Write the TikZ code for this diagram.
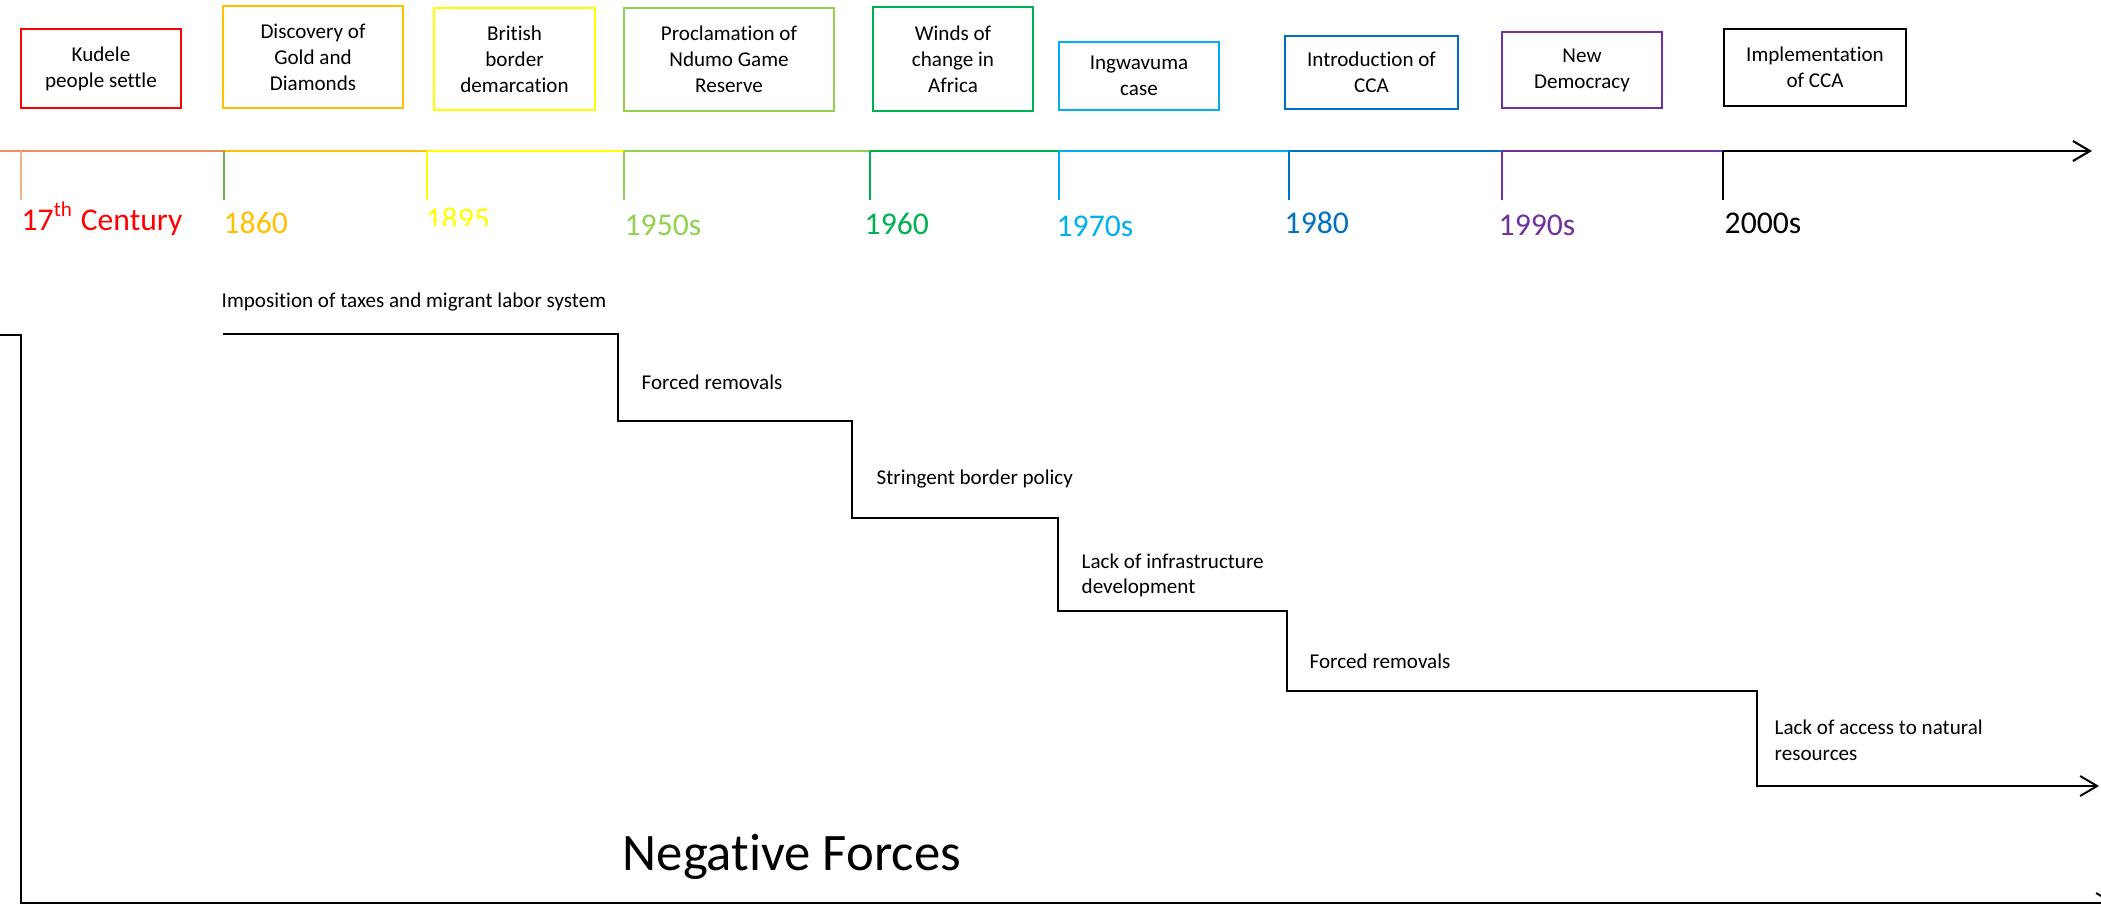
\documentclass[tikz,border=0pt]{standalone}
\usepackage{fontspec}
\setmainfont{Carlito}[Ligatures=NoCommon]
\usepackage{tikz}
\usetikzlibrary{arrows.meta}
\usetikzlibrary{positioning}

\definecolor{evred}{HTML}{FF0000}
\definecolor{evorange}{HTML}{FFC000}
\definecolor{evyellow}{HTML}{FFFF00}
\definecolor{evlime}{HTML}{92D050}
\definecolor{evgreen}{HTML}{00B050}
\definecolor{evcyan}{HTML}{00B0F0}
\definecolor{evblue}{HTML}{0070C0}
\definecolor{evpurple}{HTML}{7030A0}
\definecolor{evsalmon}{HTML}{F28C5C}
\definecolor{evpeach}{HTML}{F4B183}
\definecolor{evolive}{HTML}{70AD47}

\tikzstyle{event}=[draw,rectangle,line width=.7pt,inner sep=0pt,align=center,font=\fontsize{6}{7.4}\selectfont]
\tikzstyle{year}=[anchor=base west,inner sep=0pt,font=\fontsize{9}{11}\selectfont]
\tikzstyle{force}=[anchor=west,inner sep=0pt,align=left,font=\fontsize{6}{7.3}\selectfont]
\tikzstyle{axis}=[line width=.6pt]
\tikzstyle{tick}=[line width=.5pt]
\tikzstyle{stair}=[line width=.55pt,black]
\tikzset{>={Straight Barb[length=1.7mm,width=2mm]}}

\begin{document}
\begin{tikzpicture}

  \useasboundingbox (0,0) rectangle (21.01,-9.06);
  \clip (0,0) rectangle (21.01,-9.06);

  % events
  \node[event,draw=evred,minimum width=1.60cm,minimum height=.79cm] (kudelesettle) at (1.01,-.685) {Kudele\\ people settle};
  \node[event,draw=evorange,minimum width=1.80cm,minimum height=1.02cm] (golddiamonds) at (3.13,-.57) {Discovery of\\ Gold and\\ Diamonds};
  \node[event,draw=evyellow,minimum width=1.61cm,minimum height=1.02cm] (borderdemarcation) at (5.145,-.59) {British\\ border\\ demarcation};
  \node[event,draw=evlime,minimum width=2.10cm,minimum height=1.03cm] (ndumoreserve) at (7.29,-.595) {Proclamation of\\ Ndumo Game\\ Reserve};
  \node[event,draw=evgreen,minimum width=1.60cm,minimum height=1.04cm] (windsofchange) at (9.53,-.59) {Winds of\\ change in\\ Africa};
  \node[event,draw=evcyan,minimum width=1.60cm,minimum height=.68cm] (ingwavumacase) at (11.39,-.76) {Ingwavuma\\ case};
  \node[event,draw=evblue,minimum width=1.73cm,minimum height=.73cm] (introcca) at (13.715,-.725) {Introduction of\\ CCA};
  \node[event,draw=evpurple,minimum width=1.60cm,minimum height=.76cm] (newdemocracy) at (15.82,-.70) {New\\ Democracy};
  \node[event,draw=black,minimum width=1.82cm,minimum height=.77cm] (implementcca) at (18.15,-.675) {Implementation\\ of CCA};

  % time line
  \coordinate (axisstart) at (0,-1.51);
  \coordinate (t17th) at (0.21,-1.51);
  \coordinate (t1860) at (2.24,-1.51);
  \coordinate (t1895) at (4.27,-1.51);
  \coordinate (t1950) at (6.24,-1.51);
  \coordinate (t1960) at (8.70,-1.51);
  \coordinate (t1970) at (10.59,-1.51);
  \coordinate (t1980) at (12.89,-1.51);
  \coordinate (t1990) at (15.02,-1.51);
  \coordinate (t2000) at (17.23,-1.51);
  \coordinate (axisend) at (20.92,-1.51);
  \coordinate (tickend) at (0,-2.00);

  \draw[axis,evsalmon] (axisstart) -- (t1860);
  \draw[axis,evorange] (t1860) -- (t1895);
  \draw[axis,evyellow] (t1895) -- (t1950);
  \draw[axis,evlime] (t1950) -- (t1960);
  \draw[axis,evgreen] (t1960) -- (t1970);
  \draw[axis,evcyan] (t1970) -- (t1980);
  \draw[axis,evblue] (t1980) -- (t1990);
  \draw[axis,evpurple] (t1990) -- (t2000);
  \draw[axis,->,black] (t2000) -- (axisend);

  \draw[tick,evpeach] (t17th) -- (t17th |- tickend);
  \draw[tick,evolive] (t1860) -- (t1860 |- tickend);
  \draw[tick,evyellow] (t1895) -- (t1895 |- tickend);
  \draw[tick,evlime] (t1950) -- (t1950 |- tickend);
  \draw[tick,evgreen] (t1960) -- (t1960 |- tickend);
  \draw[tick,evcyan] (t1970) -- (t1970 |- tickend);
  \draw[tick,evblue] (t1980) -- (t1980 |- tickend);
  \draw[tick,evpurple] (t1990) -- (t1990 |- tickend);
  \draw[tick,black] (t2000) -- (t2000 |- tickend);

  % years
  \node[year,text=evred] (y17th) at (0.21,-2.30) {17\textsuperscript{th} Century};
  \node[year,text=evorange] (y1860) at (2.23,-2.33) {1860};
  \begin{scope}
    \clip (4.0,-2.0) rectangle (5.2,-2.255);
    \node[year,text=evyellow] (y1895) at (4.25,-2.29) {1895};
  \end{scope}
  \node[year,text=evlime] (y1950) at (6.24,-2.35) {1950s};
  \node[year,text=evgreen] (y1960) at (8.64,-2.34) {1960};
  \node[year,text=evcyan] (y1970) at (10.56,-2.36) {1970s};
  \node[year,text=evblue] (y1980) at (12.84,-2.33) {1980};
  \node[year,text=evpurple] (y1990) at (14.98,-2.35) {1990s};
  \node[year,text=black] (y2000) at (17.24,-2.33) {2000s};

  % negative forces
  \coordinate (leftstub) at (0,-3.35);
  \coordinate (leftcorner) at (0.21,-3.35);
  \coordinate (leftbottom) at (0.21,-9.03);
  \coordinate (bottomend) at (21.15,-9.03);
  \draw[stair,->] (leftstub) -- (leftcorner) -- (leftbottom) -- (bottomend);

  \coordinate (s0) at (2.23,-3.34);
  \coordinate (s1) at (6.18,-3.34);
  \coordinate (s2) at (6.18,-4.21);
  \coordinate (s3) at (8.52,-4.21);
  \coordinate (s4) at (8.52,-5.18);
  \coordinate (s5) at (10.58,-5.18);
  \coordinate (s6) at (10.58,-6.11);
  \coordinate (s7) at (12.87,-6.11);
  \coordinate (s8) at (12.87,-6.91);
  \coordinate (s9) at (17.57,-6.91);
  \coordinate (s10) at (17.57,-7.86);
  \coordinate (s11) at (20.99,-7.86);
  \draw[stair,->] (s0) -- (s1) -- (s2) -- (s3) -- (s4) -- (s5) -- (s6) -- (s7) -- (s8) -- (s9) -- (s10) -- (s11);

  \node[force] (taxes) at (2.21,-3.02) {Imposition of taxes and migrant labor system};
  \node[force] (removalsA) at (6.41,-3.82) {Forced removals};
  \node[force] (borderpolicy) at (8.76,-4.79) {Stringent border policy};
  \node[force] (infrastructure) at (10.81,-5.755) {Lack of infrastructure\\ development};
  \node[force] (removalsB) at (13.09,-6.61) {Forced removals};
  \node[force] (naturalres) at (17.74,-7.40) {Lack of access to natural\\ resources};

  \node[anchor=base west,inner sep=0pt,font=\fontsize{15}{18}\selectfont] (negforces) at (6.22,-8.70) {Negative Forces};

\end{tikzpicture}
\end{document}
